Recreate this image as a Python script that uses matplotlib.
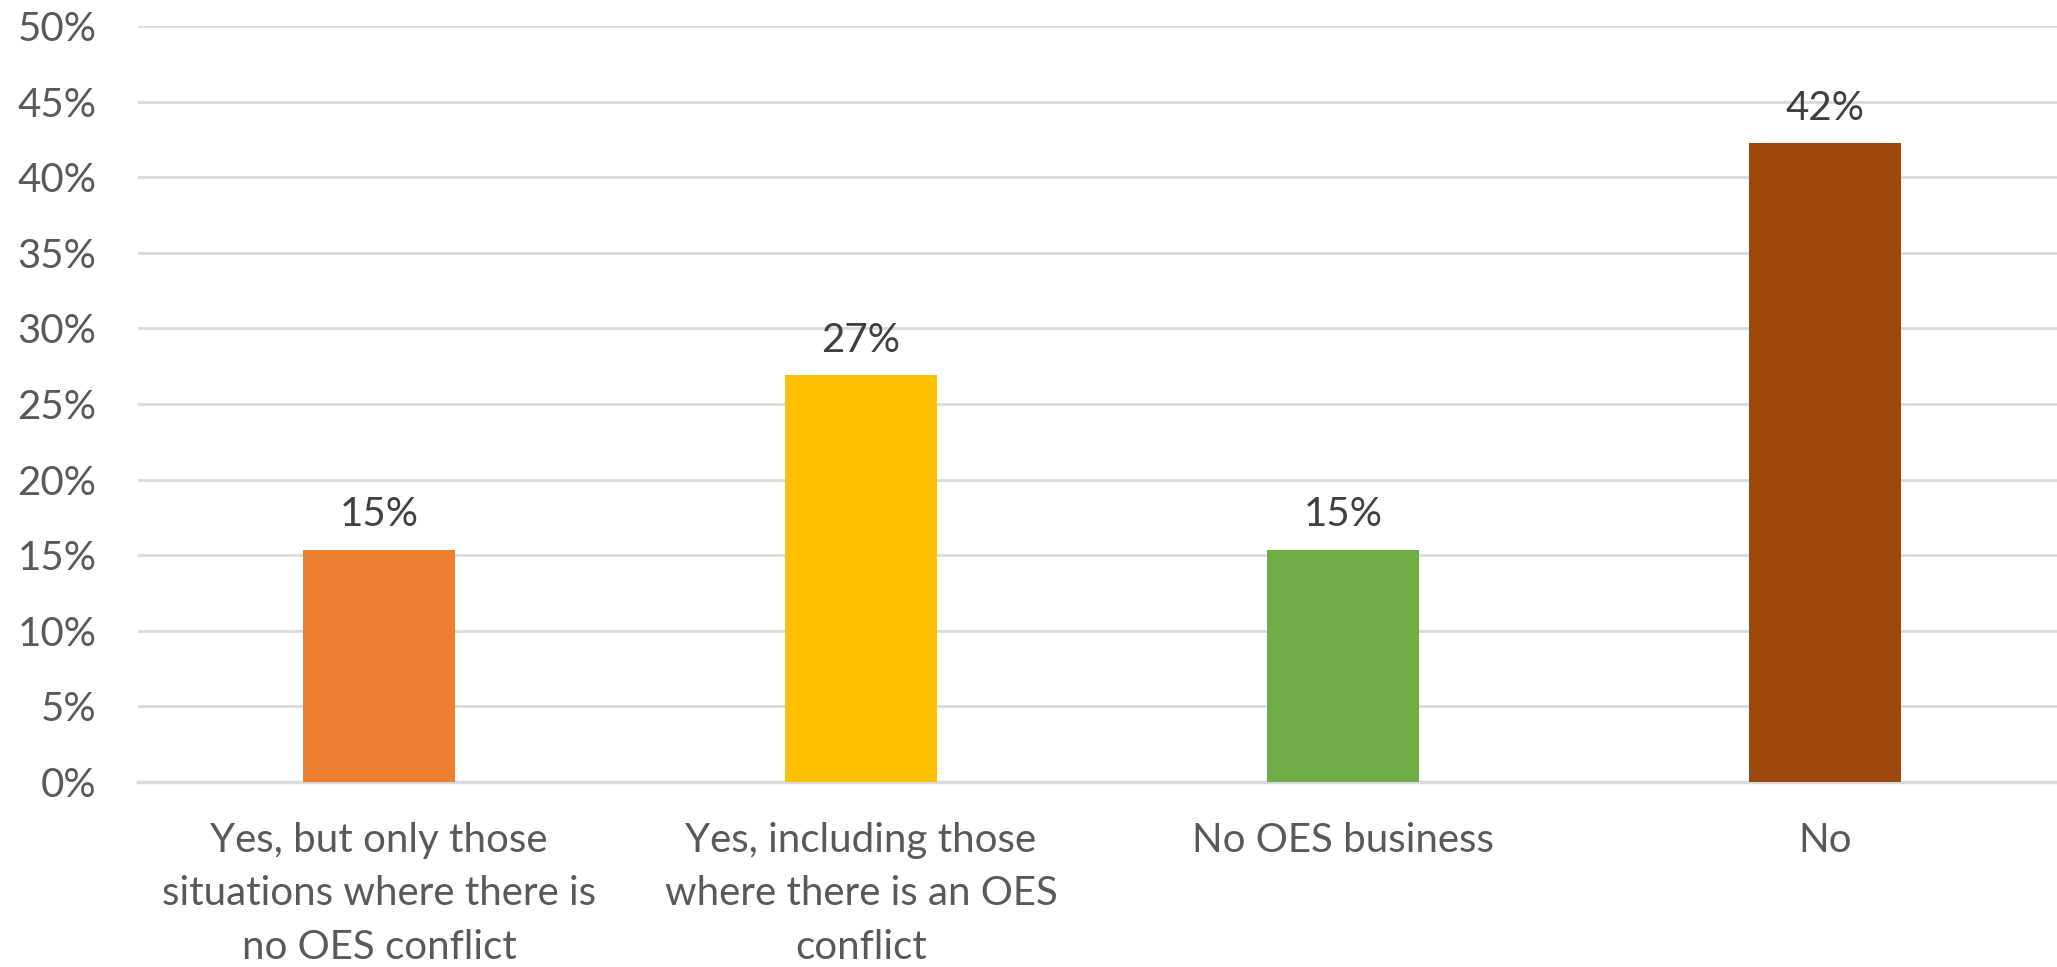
import matplotlib
matplotlib.use("Agg")
import matplotlib.pyplot as plt
from matplotlib.ticker import PercentFormatter

categories = [
    "Yes, but only those\nsituations where there is\nno OES conflict",
    "Yes, including those\nwhere there is an OES\nconflict",
    "No OES business",
    "No",
]
shares = [15.35, 26.9, 15.35, 42.25]
colors = ["#ED7D31", "#FFC000", "#70AD47", "#9E480E"]
yticks = [0, 5, 10, 15, 20, 25, 30, 35, 40, 45, 50]

plt.rcParams["font.family"] = ["Lato", "DejaVu Sans"]

W, H = 2057, 967
fig = plt.figure(figsize=(W / 100, H / 100), dpi=100)
ax = fig.add_axes([138 / W, 1 - 782 / H, (2066 - 138) / W, (782 - 26) / H])

x = range(len(categories))
bars = ax.bar(x, shares, width=0.314, color=colors, zorder=3)
ax.bar_label(bars, labels=[f"{v:.0f}%" for v in shares], padding=12,
             fontsize=29, color="#404040")

ax.set_xlim(-0.5, 3.5)
ax.set_ylim(0, 50)
ax.set_yticks(yticks)
ax.yaxis.set_major_formatter(PercentFormatter(decimals=0))
ax.set_xticks(list(x))
ax.set_xticklabels(categories, linespacing=1.54)

ax.grid(axis="y", color="#D9D9D9", linewidth=2, zorder=0)
ax.set_axisbelow(True)
for side in ["top", "right", "left"]:
    ax.spines[side].set_visible(False)
ax.spines["bottom"].set_color("#D9D9D9")
ax.spines["bottom"].set_linewidth(2.5)

ax.tick_params(axis="y", length=0, pad=30, labelsize=29, labelcolor="#595959")
ax.tick_params(axis="x", length=0, pad=29, labelsize=29, labelcolor="#595959")

fig.savefig("out.png", dpi=100)
